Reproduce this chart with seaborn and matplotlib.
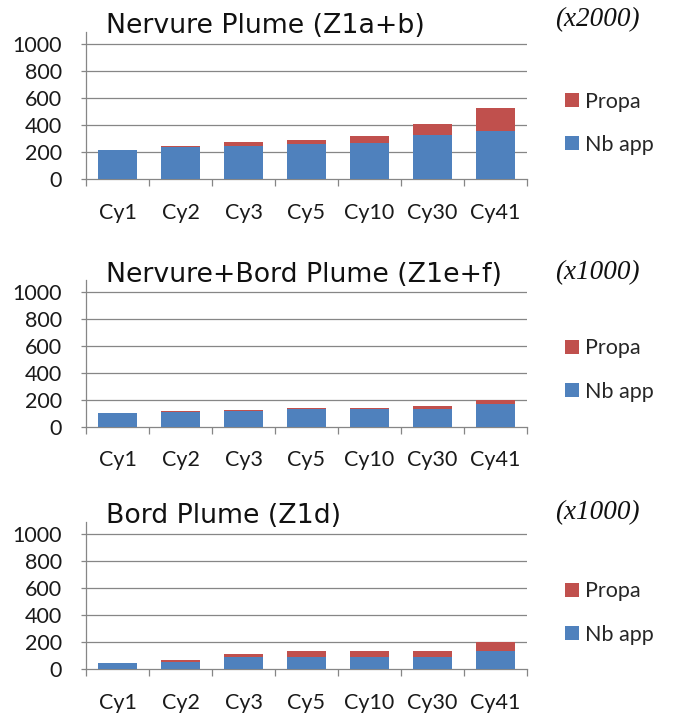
import matplotlib
matplotlib.use("Agg")
import matplotlib.pyplot as plt
import seaborn as sns
import pandas as pd
import numpy as np
from matplotlib.patches import Patch

sns.set_theme(style="white")
plt.rcParams['font.family'] = ['Lato', 'DejaVu Sans']

categories = ["Cy1", "Cy2", "Cy3", "Cy5", "Cy10", "Cy30", "Cy41"]

titles = ["Nervure Plume (Z1a+b)", "Nervure+Bord Plume (Z1e+f)", "Bord Plume (Z1d)"]
multipliers = ["(x2000)", "(x1000)", "(x1000)"]

nb_app_1 = [220, 240, 248, 265, 272, 326, 356]
propa_1 = [0, 10, 27, 25, 52, 86, 175]

nb_app_2 = [100, 110, 116, 128, 128, 132, 170]
propa_2 = [0, 8, 8, 9, 9, 22, 30]

nb_app_3 = [47, 55, 90, 90, 90, 90, 133]
propa_3 = [0, 17, 25, 45, 45, 45, 67]

yticks = [0, 200, 400, 600, 800, 1000]

BLUE = "#4F81BD"
RED = "#C0504D"
GRAY = "#868686"

W, H = 674, 717
fig = plt.figure(figsize=(W / 100, H / 100), dpi=100)

panels = [(nb_app_1, propa_1), (nb_app_2, propa_2), (nb_app_3, propa_3)]
zero_px = [179.3, 426.7, 669.3]
title_base_px = [33.3, 282.0, 523.0]
mult_center_px = [20.0, 272.5, 513.0]
legend_center_px = [123.3, 370.0, 613.0]

ax_left, ax_w = 86 / W, 441 / W
ax_h_px = 147

for i, (nb, pr) in enumerate(panels):
    bottom = 1 - zero_px[i] / H
    ax = fig.add_axes([ax_left, bottom, ax_w, ax_h_px / H])
    df = pd.DataFrame({"cat": categories, "nb": nb, "propa": pr})
    df["total"] = df["nb"] + df["propa"]
    sns.barplot(data=df, x="cat", y="total", color=RED, saturation=1, width=0.61,
                linewidth=0, ax=ax, zorder=3)
    sns.barplot(data=df, x="cat", y="nb", color=BLUE, saturation=1, width=0.61,
                linewidth=0, ax=ax, zorder=3)
    ax.set_xlim(-0.5, len(categories) - 0.5)
    ax.set_ylim(0, 1090)
    ax.set_yticks(yticks)
    ax.set_yticklabels([str(v) for v in yticks])
    ax.set_xlabel("")
    ax.set_ylabel("")
    ax.grid(False)
    for v in yticks[1:]:
        ax.axhline(v, color=GRAY, lw=0.9, zorder=1)
    for s in ["top", "right"]:
        ax.spines[s].set_visible(False)
    for s in ["left", "bottom"]:
        ax.spines[s].set_color(GRAY)
        ax.spines[s].set_linewidth(0.9)
    ax.set_xticks(np.arange(-0.5, len(categories), 1.0), minor=True)
    ax.tick_params(axis="x", which="major", length=0, pad=17, labelsize=15.5, labelcolor="#1a1a1a")
    ax.tick_params(axis="x", which="minor", length=5, width=0.9, color=GRAY, direction="out", bottom=True)
    ax.tick_params(axis="y", which="major", length=3.5, width=0.9, color=GRAY, direction="out",
                   left=True, pad=14, labelsize=15.5, labelcolor="#1a1a1a")

    fig.text(106 / W, 1 - title_base_px[i] / H, titles[i], fontsize=19.3, ha="left",
             va="baseline", color="#111111", family=["DejaVu Sans"])
    fig.text(640 / W, 1 - mult_center_px[i] / H, multipliers[i], fontsize=19.5, ha="right",
             va="center", family=["Liberation Serif", "DejaVu Serif"], style="italic", color="#111111")

    handles = [Patch(facecolor=RED, edgecolor="none", label="Propa"),
               Patch(facecolor=BLUE, edgecolor="none", label="Nb app")]
    fig.legend(handles=handles, loc="center left",
               bbox_to_anchor=(565 / W, 1 - legend_center_px[i] / H), bbox_transform=fig.transFigure,
               frameon=False, fontsize=15.5, borderpad=0, borderaxespad=0,
               handlelength=0.65, handleheight=0.65, handletextpad=0.3, labelspacing=1.07)

fig.savefig("out.png", dpi=100)
